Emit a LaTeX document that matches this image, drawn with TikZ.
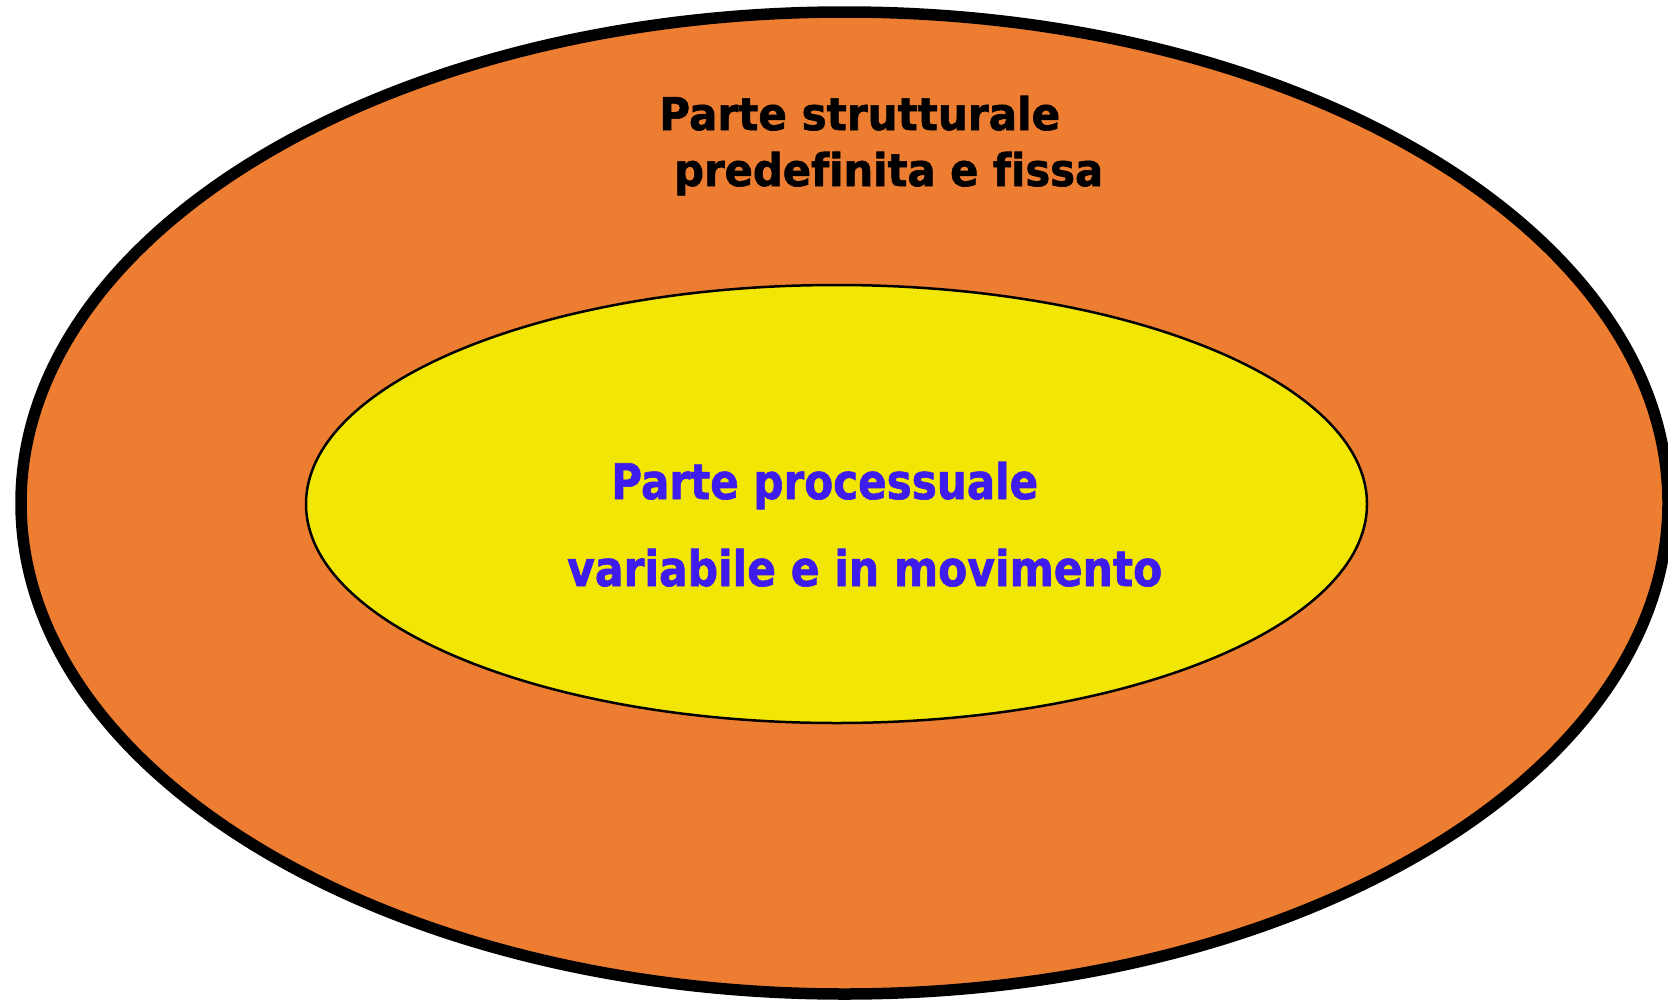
\documentclass[tikz,border=0pt]{standalone}
\usepackage{fontspec}
\usepackage{graphicx}
\setmainfont{DejaVu Sans}
\newfontfamily\heavyfont[Ligatures=NoCommon, BoldFeatures={FakeBold=1.4}]{DejaVu Sans}
\definecolor{outerfill}{RGB}{237,125,49}
\definecolor{innerfill}{RGB}{242,230,5}
\definecolor{bluetext}{RGB}{62,28,236}
\newcommand{\fitw}[2]{\resizebox{#1}{\height}{#2}}
\tikzset{
  outerell/.style={draw=black, fill=outerfill, line width=11.5pt},
  innerell/.style={draw=black, fill=innerfill, line width=2.5pt},
  toptext/.style={anchor=base west, inner sep=0pt, text=black, font=\heavyfont\fontsize{45}{54}\selectfont\bfseries},
  midtext/.style={anchor=base west, inner sep=0pt, text=bluetext, font=\heavyfont\fontsize{49}{58}\selectfont\bfseries}
}
\begin{document}
\begin{tikzpicture}[x=1pt,y=-1pt]
\useasboundingbox (0,0) rectangle (1668,999);
\begin{scope}
\clip (0,0) rectangle (1668,999);
\path[outerell] (844.5,503) ellipse [x radius=823.5, y radius=491];
\end{scope}
\path[innerell] (836.5,504) ellipse [x radius=530.5, y radius=219];
\node[toptext] (t1) at (659,130) {\fitw{401pt}{Parte strutturale}};
\node[toptext] (t2) at (674,186) {\fitw{429pt}{predefinita e fissa}};
\node[midtext] (t3) at (611,499) {\fitw{427pt}{Parte processuale}};
\node[midtext] (t4) at (567,586) {\fitw{595pt}{variabile e in movimento}};
\end{tikzpicture}
\end{document}
